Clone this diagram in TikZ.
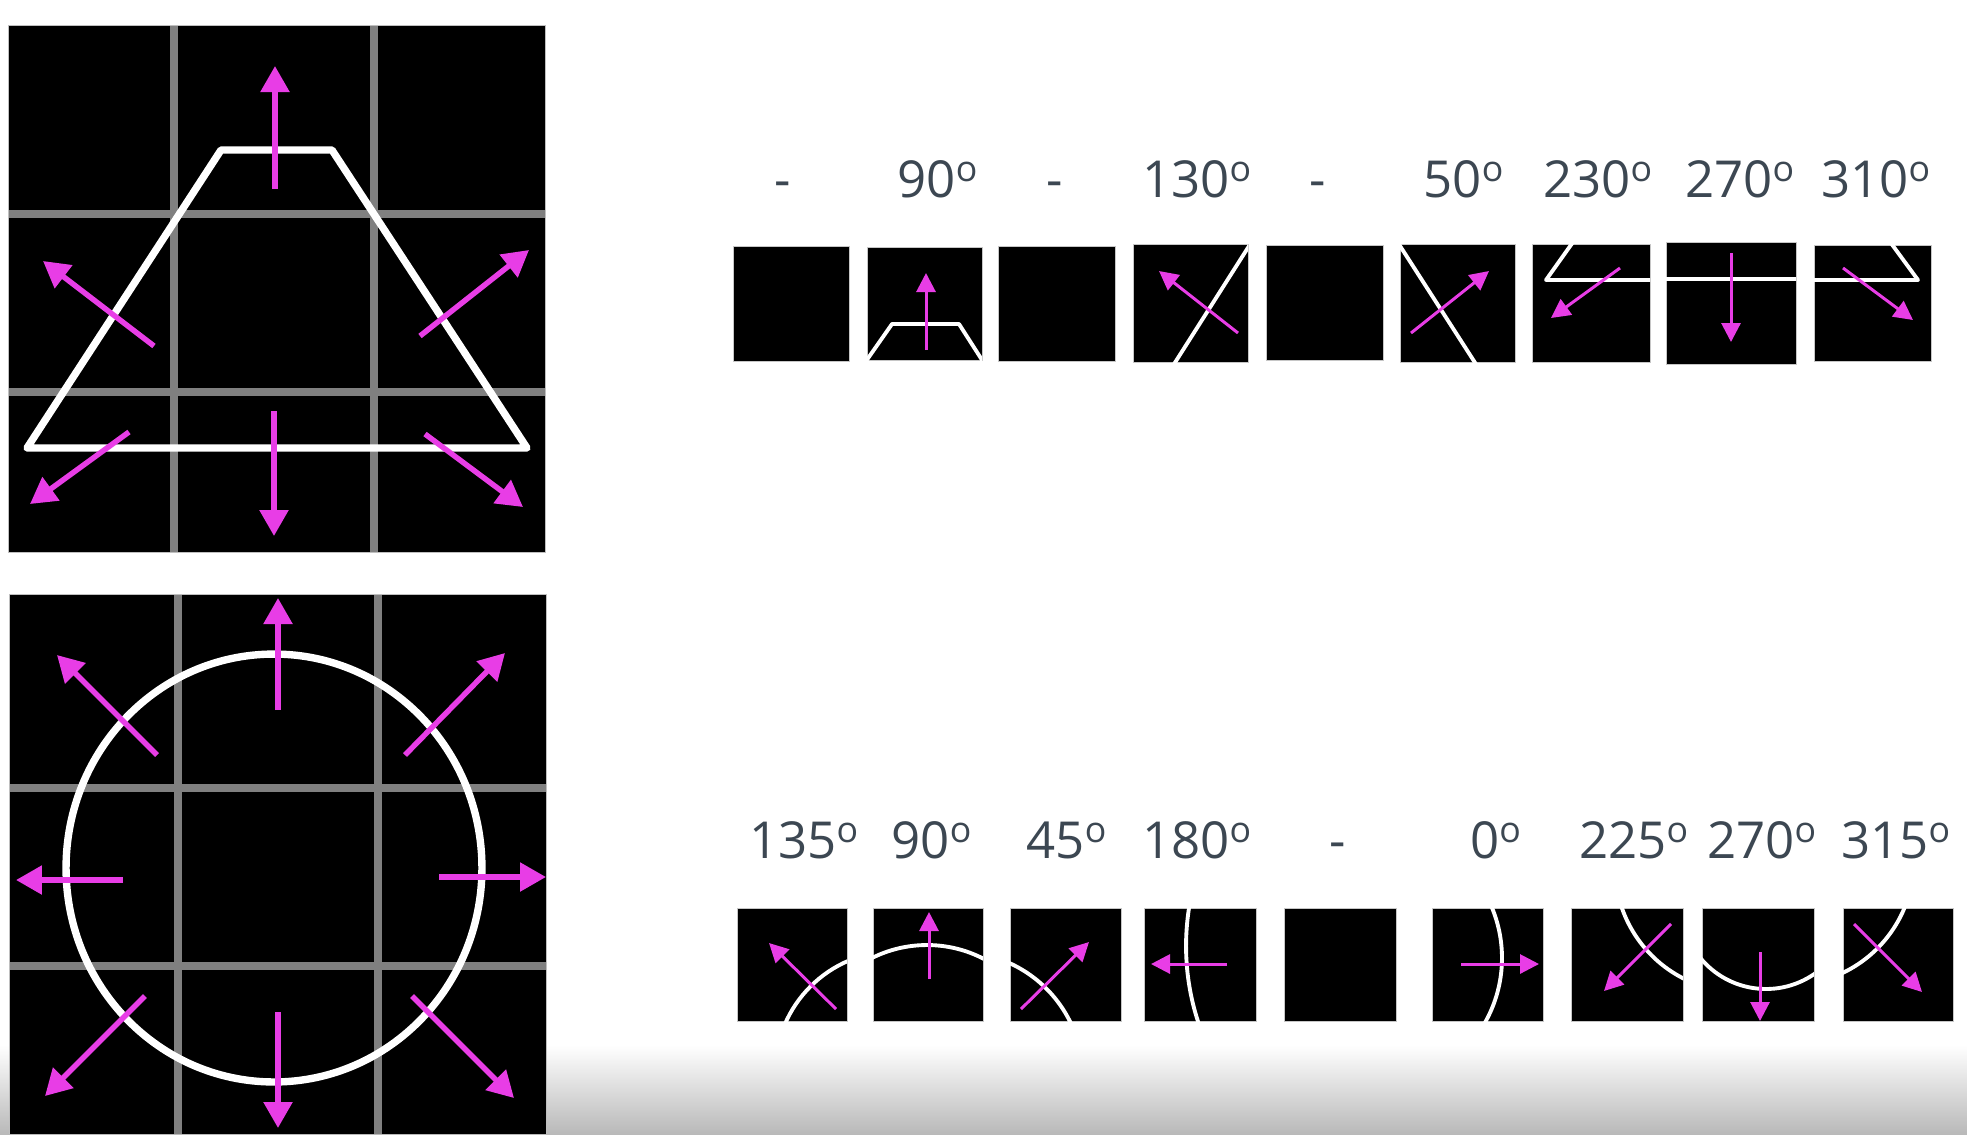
\documentclass[tikz,border=0pt]{standalone}
\usepackage{fontspec}
\setmainfont{Open Sans}
\usetikzlibrary{arrows.meta}
\definecolor{mag}{HTML}{E83DE6}
\definecolor{gridgray}{HTML}{808080}
\definecolor{slate}{HTML}{3C4752}
\newcommand{\degsym}{\textsuperscript{o}}

\begin{document}
\begin{tikzpicture}[
  x=0.02cm, y=-0.02cm,
  font=\fontsize{29}{33}\selectfont,
  gridline/.style={draw=gridgray, line width=4.1pt},
  cell/.style={fill=black, draw=gray!45, line width=0.5pt},
  outline/.style={draw=white, line width=4.2pt, line join=round},
  thinline/.style={draw=white, line width=2.2pt, line join=round},
  vec/.style={draw=mag, line width=3.1pt, -{Triangle[length=0.52cm, width=0.56cm]}},
  smallvec/.style={draw=mag, line width=1.7pt, -{Triangle[length=0.38cm, width=0.38cm]}},
  lbl/.style={text=slate, anchor=base, inner sep=0pt}
]
\useasboundingbox (0,0) rectangle (1967,1134);
\fill[white] (0,0) rectangle (1967,1134);
\shade[top color=white, bottom color=gray!55] (0,1045) rectangle (1967,1134);

% trapezoid grid
\fill[black] (8,25) rectangle (545,552);
\draw[gridline] (174,25) -- (174,552);
\draw[gridline] (374,25) -- (374,552);
\draw[gridline] (8,214) -- (545,214);
\draw[gridline] (8,392) -- (545,392);
\draw[gray!50, line width=0.5pt] (8,25) rectangle (545,552);
\draw[outline] (221,150) -- (332,150) -- (527,448) -- (27,448) -- cycle;
\draw[vec] (275,189) -- (275,66);
\draw[vec] (154,346) -- (43,261);
\draw[vec] (420,336) -- (529,250);
\draw[vec] (129,432) -- (30,504);
\draw[vec] (274,411) -- (274,536);
\draw[vec] (425,434) -- (523,507);

% circle grid
\fill[black] (9,594) rectangle (546,1134);
\draw[gridline] (178,594) -- (178,1134);
\draw[gridline] (378,594) -- (378,1134);
\draw[gridline] (9,788) -- (546,788);
\draw[gridline] (9,966) -- (546,966);
\draw[gray!50, line width=0.5pt] (546,1134) -- (546,594) -- (9,594) -- (9,1134);
\draw[outline] (274,868) ellipse [x radius=4.16cm, y radius=4.28cm];
\draw[vec] (278,710) -- (278,598);
\draw[vec] (157,755) -- (57,655);
\draw[vec] (405,755) -- (505,653);
\draw[vec] (123,880) -- (16,880);
\draw[vec] (439,877) -- (546,877);
\draw[vec] (145,996) -- (45,1096);
\draw[vec] (278,1012) -- (278,1128);
\draw[vec] (412,996) -- (514,1098);

% top row labels
\node[lbl] (tl1) at (783,197) {-};
\node[lbl] (tl2) at (938,197) {90\degsym};
\node[lbl] (tl3) at (1055,197) {-};
\node[lbl] (tl4) at (1197,197) {130\degsym};
\node[lbl] (tl5) at (1318,197) {-};
\node[lbl] (tl6) at (1464,197) {50\degsym};
\node[lbl] (tl7) at (1598,197) {230\degsym};
\node[lbl] (tl8) at (1740,197) {270\degsym};
\node[lbl] (tl9) at (1876,197) {310\degsym};

% top row cells
\filldraw[cell] (733,246) rectangle (849,361);
\filldraw[cell] (867,247) rectangle (982,360);
\filldraw[cell] (998,246) rectangle (1115,361);
\filldraw[cell] (1133,244) rectangle (1248,362);
\filldraw[cell] (1266,245) rectangle (1383,360);
\filldraw[cell] (1400,244) rectangle (1515,362);
\filldraw[cell] (1532,244) rectangle (1650,362);
\filldraw[cell] (1666,242) rectangle (1796,364);
\filldraw[cell] (1814,245) rectangle (1931,361);

\begin{scope}
  \clip (867,247) rectangle (982,360);
  \draw[thinline] (857,374) -- (892,324) -- (959,324) -- (991,374);
\end{scope}
\draw[smallvec] (926,350) -- (926,273);

\begin{scope}
  \clip (1133,244) rectangle (1248,362);
  \draw[thinline] (1256,235) -- (1169,372);
\end{scope}
\draw[smallvec] (1238,333) -- (1159,271);

\begin{scope}
  \clip (1400,244) rectangle (1515,362);
  \draw[thinline] (1393,235) -- (1481,372);
\end{scope}
\draw[smallvec] (1411,333) -- (1489,271);

\begin{scope}
  \clip (1532,244) rectangle (1650,362);
  \draw[thinline] (1578,235) -- (1546,280) -- (1660,280);
\end{scope}
\draw[smallvec] (1620,268) -- (1551,318);

\begin{scope}
  \clip (1666,242) rectangle (1796,364);
  \draw[thinline] (1656,279) -- (1806,279);
\end{scope}
\draw[smallvec] (1731,253) -- (1731,342);

\begin{scope}
  \clip (1814,245) rectangle (1931,361);
  \draw[thinline] (1885,235) -- (1918,280) -- (1805,280);
\end{scope}
\draw[smallvec] (1843,268) -- (1913,320);

% bottom row labels
\node[lbl] (bl1) at (804,858) {135\degsym};
\node[lbl] (bl2) at (932,858) {90\degsym};
\node[lbl] (bl3) at (1067,858) {45\degsym};
\node[lbl] (bl4) at (1197,858) {180\degsym};
\node[lbl] (bl5) at (1338,858) {-};
\node[lbl] (bl6) at (1496,858) {0\degsym};
\node[lbl] (bl7) at (1634,858) {225\degsym};
\node[lbl] (bl8) at (1762,858) {270\degsym};
\node[lbl] (bl9) at (1896,858) {315\degsym};

% bottom row cells
\filldraw[cell] (737,908) rectangle (847,1021);
\filldraw[cell] (873,908) rectangle (983,1021);
\filldraw[cell] (1010,908) rectangle (1121,1021);
\filldraw[cell] (1144,908) rectangle (1256,1021);
\filldraw[cell] (1284,908) rectangle (1396,1021);
\filldraw[cell] (1432,908) rectangle (1543,1021);
\filldraw[cell] (1571,908) rectangle (1683,1021);
\filldraw[cell] (1702,908) rectangle (1814,1021);
\filldraw[cell] (1843,908) rectangle (1953,1021);

\begin{scope}
  \clip (737,908) rectangle (847,1021);
  \draw[thinline] (896,1072) circle [radius=2.42cm];
\end{scope}
\draw[smallvec] (836,1009) -- (769,943);

\begin{scope}
  \clip (873,908) rectangle (983,1021);
  \draw[thinline] (927,1068) circle [radius=2.46cm];
\end{scope}
\draw[smallvec] (929,979) -- (929,912);

\begin{scope}
  \clip (1010,908) rectangle (1121,1021);
  \draw[thinline] (958,1077) circle [radius=2.5cm];
\end{scope}
\draw[smallvec] (1021,1009) -- (1089,942);

\begin{scope}
  \clip (1144,908) rectangle (1256,1021);
  \draw[thinline] (1429,946) circle [radius=4.86cm];
\end{scope}
\draw[smallvec] (1227,964) -- (1151,964);

\begin{scope}
  \clip (1432,908) rectangle (1543,1021);
  \draw[thinline] (1371,958) circle [radius=2.62cm];
\end{scope}
\draw[smallvec] (1461,964) -- (1539,964);

\begin{scope}
  \clip (1571,908) rectangle (1683,1021);
  \draw[thinline] (1740,867) circle [radius=2.5cm];
\end{scope}
\draw[smallvec] (1671,924) -- (1604,991);

\begin{scope}
  \clip (1702,908) rectangle (1814,1021);
  \draw[thinline] (1766,904) circle [radius=1.7cm];
\end{scope}
\draw[smallvec] (1760,952) -- (1760,1021);

\begin{scope}
  \clip (1843,908) rectangle (1953,1021);
  \draw[thinline] (1789,860) circle [radius=2.5cm];
\end{scope}
\draw[smallvec] (1854,924) -- (1922,992);

\end{tikzpicture}
\end{document}
